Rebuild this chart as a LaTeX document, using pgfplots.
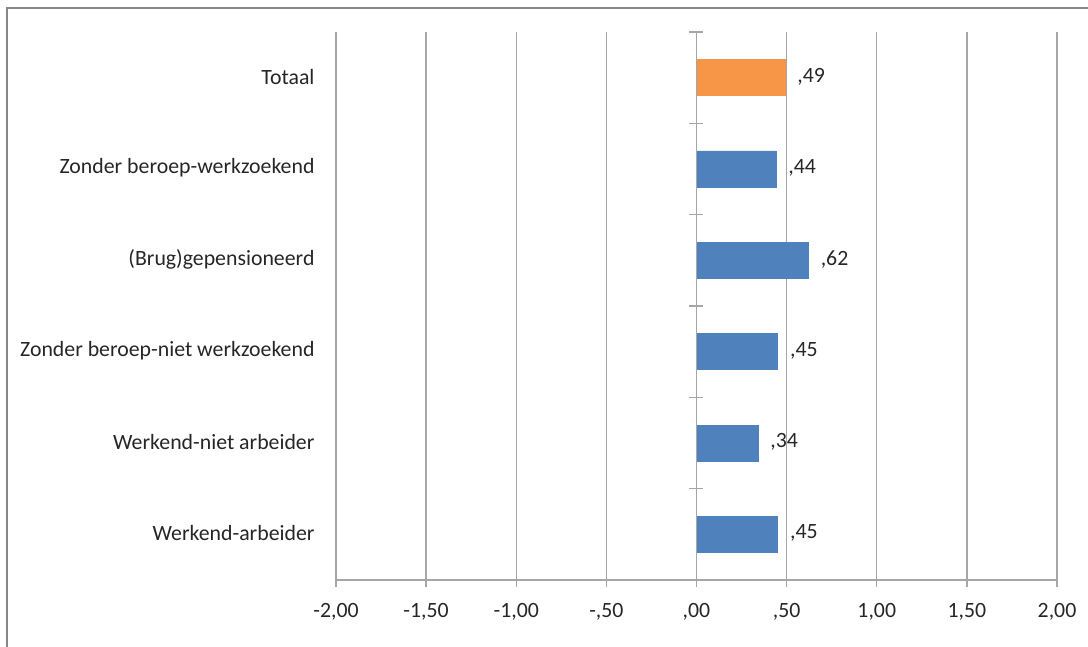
\documentclass[border=0pt]{standalone}
\usepackage{fontspec}
\setmainfont{Carlito}
\usepackage{pgfplots}
\pgfplotsset{compat=1.18}
\usepackage{pgfplotstable}
\usetikzlibrary{calc}
\definecolor{barblue}{HTML}{4F81BD}
\definecolor{barorange}{HTML}{F79646}
\definecolor{gridgray}{HTML}{A6A6A6}
\definecolor{framegray}{HTML}{878787}
\definecolor{txt}{HTML}{262626}
\pgfplotstableread{
y x lab
0 0.45 ,45
1 0.34 ,34
2 0.45 ,45
3 0.62 ,62
4 0.44 ,44
}\groupdata
\pgfplotstableread{
y x lab
5 0.49 ,49
}\totaldata
\begin{document}
\begin{tikzpicture}
\begin{axis}[
  name=ax,
  scale only axis, width=721pt, height=548pt,
  xmin=-2, xmax=2, ymin=-0.5, ymax=5.5,
  xbar, bar width=36pt, bar shift=0pt,
  axis lines*=left,
  axis line style={gridgray, line width=1.4pt},
  xmajorgrids, grid style={gridgray, line width=1.4pt},
  xtick={-2,-1.5,...,2},
  xticklabels={{-2,00},{-1,50},{-1,00},{-,50},{,00},{,50},{1,00},{1,50},{2,00}},
  xtick style={gridgray, line width=1.4pt},
  major tick length=7pt, tick align=outside,
  ytick={0,...,5},
  yticklabels={Werkend-arbeider, Werkend-niet arbeider, Zonder beroep-niet werkzoekend, (Brug)gepensioneerd, Zonder beroep-werkzoekend, Totaal},
  ytick style={draw=none},
  yticklabel style={xshift=-11pt, yshift=1pt},
  xticklabel style={yshift=-13pt},
  ticklabel style={font=\fontsize{21.8}{26}\selectfont, text=txt},
  nodes near coords,
  point meta=explicit symbolic,
  every node near coord/.append style={font=\fontsize{21.8}{26}\selectfont, text=txt, anchor=west, xshift=9pt, yshift=1pt},
  clip=false,
]
\addplot[fill=barblue, draw=barblue] table[x=x, y=y, meta=lab] {\groupdata};
\addplot[fill=barorange, draw=barorange] table[x=x, y=y, meta=lab] {\totaldata};
\draw[gridgray, line width=1.4pt] (axis cs:0,-0.5) -- (axis cs:0,5.5);
\pgfplotsinvokeforeach{-0.5,0.5,1.5,2.5,3.5,4.5,5.5}{
  \draw[gridgray, line width=1.4pt] ([xshift=-7pt]axis cs:0,#1) -- ([xshift=7pt]axis cs:0,#1);
}
\end{axis}
\draw[framegray, line width=2.2pt] ($(ax.south west)+(-329pt,-120pt)$) -- ($(ax.south west)+(-329pt,572pt)$) -- ($(ax.south west)+(800pt,572pt)$);
\pgfresetboundingbox
\useasboundingbox ($(ax.south west)+(-336pt,-66pt)$) rectangle ($(ax.south west)+(752pt,580pt)$);
\end{tikzpicture}
\end{document}
